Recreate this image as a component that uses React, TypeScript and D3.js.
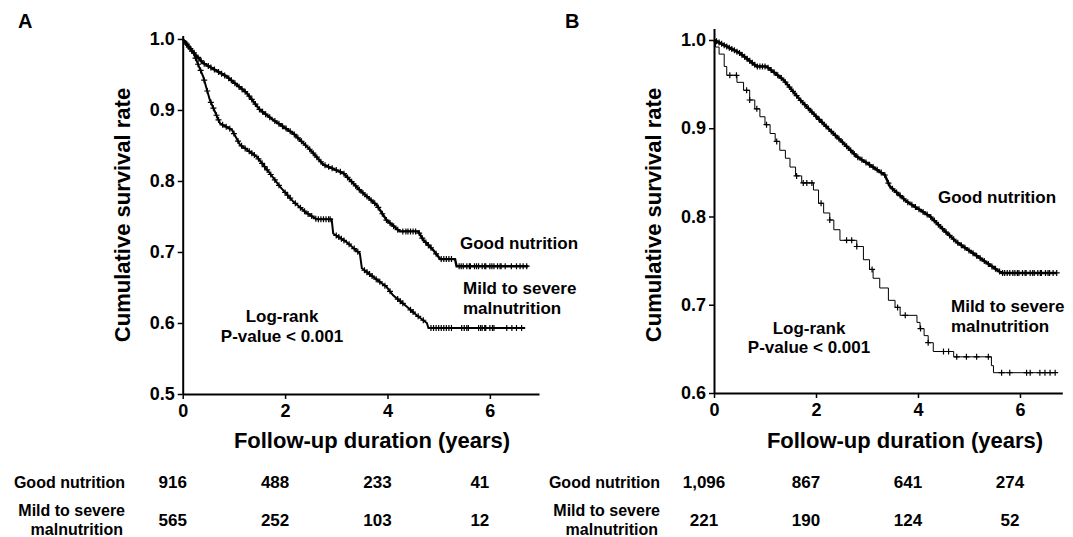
import React, { useEffect, useRef } from 'react';
import * as d3 from 'd3';

const FONT = '"Liberation Sans", Arial, Helvetica, sans-serif';

// Panel A curves, [years, cumulative survival]
const goodA: [number, number][] = [
  [0, 1.0], [0.2, 0.982], [0.4, 0.966], [0.86, 0.947], [1.25, 0.924], [1.51, 0.9],
  [1.77, 0.886], [2.16, 0.867], [2.49, 0.844], [2.75, 0.823], [3.14, 0.811],
  [3.46, 0.787], [3.79, 0.766], [3.98, 0.745], [4.24, 0.729], [4.6, 0.729],
  [4.7, 0.717], [4.89, 0.703], [5.03, 0.69], [5.32, 0.69], [5.35, 0.68], [6.75, 0.68],
];
const malA: [number, number][] = [
  [0, 1.0], [0.21, 0.98], [0.4, 0.947], [0.53, 0.914], [0.73, 0.881], [0.96, 0.872],
  [1.12, 0.851], [1.45, 0.834], [1.7, 0.811], [1.9, 0.792], [2.16, 0.771],
  [2.42, 0.755], [2.62, 0.746], [2.91, 0.746], [2.94, 0.726], [3.2, 0.714],
  [3.46, 0.698], [3.5, 0.677], [3.72, 0.665], [3.98, 0.651], [4.11, 0.639],
  [4.38, 0.623], [4.57, 0.611], [4.77, 0.6], [4.8, 0.593], [6.69, 0.593],
];
const goodACensor = [
  0.08, 0.15, 0.22, 0.3, 0.36, 0.42, 0.5, 0.55, 0.62, 0.7, 0.76, 0.82, 0.9, 0.95,
  1.02, 1.1, 1.16, 1.22, 1.3, 1.35, 1.42, 1.5, 1.56, 1.62, 1.7, 1.8, 1.88, 1.95,
  2.02, 2.1, 2.18, 2.25, 2.32, 2.4, 2.48, 2.55, 2.62, 2.7, 2.78, 2.85, 2.92, 3.0,
  3.08, 3.15, 3.22, 3.3, 3.38, 3.45, 3.52, 3.6, 3.68, 3.75, 3.82, 3.9, 3.98, 4.05,
  4.12, 4.2, 4.3, 4.36, 4.4, 4.45, 4.5, 4.55, 4.62, 4.68, 4.75, 4.8, 4.85, 4.95,
  5.05, 5.1, 5.15, 5.2, 5.25, 5.4, 5.44, 5.48, 5.55, 5.6, 5.62, 5.7, 5.74, 5.78,
  5.85, 5.9, 5.92, 6.0, 6.04, 6.08, 6.15, 6.2, 6.22, 6.3, 6.42, 6.52, 6.59, 6.65, 6.72,
];
const malACensor = [
  0.06, 0.12, 0.18, 0.25, 0.3, 0.35, 0.42, 0.48, 0.55, 0.6, 0.66, 0.7, 0.78, 0.85,
  0.92, 1.0, 1.08, 1.15, 1.22, 1.3, 1.35, 1.4, 1.48, 1.55, 1.6, 1.65, 1.72, 1.8,
  1.88, 2.0, 2.05, 2.1, 2.2, 2.3, 2.38, 2.45, 2.52, 2.6, 2.65, 2.7, 2.75, 2.8,
  2.85, 2.88, 3.0, 3.05, 3.1, 3.15, 3.25, 3.35, 3.42, 3.55, 3.6, 3.65, 3.7, 3.78,
  3.85, 3.95, 4.05, 4.2, 4.25, 4.3, 4.45, 4.5, 4.6, 4.7, 4.85, 4.9, 4.95, 5.0,
  5.05, 5.1, 5.15, 5.2, 5.25, 5.45, 5.5, 5.55, 5.58, 5.78, 5.82, 5.85, 5.9, 5.92,
  6.0, 6.05, 6.08, 6.33, 6.43, 6.52, 6.62,
];

// Panel B curves
const goodB: [number, number][] = [
  [0, 1.0], [0.51, 0.985], [0.84, 0.97], [1.03, 0.97], [1.36, 0.955], [1.69, 0.932],
  [2.01, 0.913], [2.27, 0.898], [2.54, 0.883], [2.8, 0.868], [3.12, 0.856],
  [3.35, 0.847], [3.45, 0.834], [3.78, 0.817], [4.24, 0.8], [4.5, 0.785],
  [4.76, 0.771], [5.09, 0.758], [5.41, 0.745], [5.64, 0.736], [6.72, 0.736],
];
const malB: [number, number][] = [
  [0, 1.0], [0.03, 0.992], [0.1, 0.984], [0.2, 0.97], [0.25, 0.96], [0.45, 0.952],
  [0.58, 0.943], [0.7, 0.932], [0.8, 0.922], [0.9, 0.913], [1.0, 0.904],
  [1.1, 0.894], [1.2, 0.885], [1.29, 0.875], [1.4, 0.866], [1.49, 0.856],
  [1.6, 0.846], [1.72, 0.838], [1.95, 0.83], [2.05, 0.815], [2.15, 0.804],
  [2.27, 0.796], [2.35, 0.785], [2.47, 0.773], [2.8, 0.766], [2.93, 0.751],
  [3.05, 0.74], [3.12, 0.73], [3.25, 0.719], [3.42, 0.705], [3.55, 0.697],
  [3.65, 0.688], [3.98, 0.68], [4.04, 0.673], [4.12, 0.665], [4.2, 0.657],
  [4.3, 0.647], [4.7, 0.641], [5.44, 0.631], [5.48, 0.623], [6.7, 0.623],
];
const goodBCensor = [
  0.05, 0.1, 0.15, 0.2, 0.25, 0.3, 0.35, 0.4, 0.45, 0.5, 0.55, 0.6, 0.65, 0.7,
  0.75, 0.8, 0.85, 0.9, 0.95, 1.0, 1.06, 1.12, 1.18, 1.25, 1.32, 1.4, 1.48, 1.55,
  1.62, 1.7, 1.78, 1.85, 1.92, 2.0, 2.06, 2.12, 2.2, 2.3, 2.38, 2.45, 2.52, 2.6,
  2.68, 2.75, 2.82, 2.9, 2.98, 3.05, 3.12, 3.2, 3.28, 3.35, 3.42, 3.5, 3.58, 3.65,
  3.72, 3.8, 3.88, 3.95, 4.02, 4.1, 4.18, 4.25, 4.32, 4.4, 4.48, 4.55, 4.62, 4.7,
  4.78, 4.85, 4.92, 5.0, 5.08, 5.15, 5.22, 5.3, 5.38, 5.45, 5.52, 5.6, 5.66, 5.7,
  5.75, 5.8, 5.86, 5.9, 5.95, 5.98, 6.05, 6.1, 6.12, 6.2, 6.25, 6.28, 6.35, 6.4,
  6.42, 6.5, 6.55, 6.58, 6.65, 6.72,
];
const malBCensor = [
  0.31, 0.44, 0.64, 0.7, 0.84, 1.03, 1.23, 1.62, 1.75, 1.82, 1.92, 2.1, 2.27,
  2.6, 2.7, 2.8, 3.1, 3.6, 3.75, 4.05, 4.2, 4.5, 4.6, 4.76, 4.95, 5.15, 5.38,
  5.64, 5.8, 6.13, 6.2, 6.39, 6.49, 6.59, 6.69,
];

const xTicks = [0, 2, 4, 6];
const yTicksA = [0.5, 0.6, 0.7, 0.8, 0.9, 1.0];
const yTicksB = [0.6, 0.7, 0.8, 0.9, 1.0];
const riskGoodA = ['916', '488', '233', '41'];
const riskMalA = ['565', '252', '103', '12'];
const riskGoodB = ['1,096', '867', '641', '274'];
const riskMalB = ['221', '190', '124', '52'];

type Curve = { pts: [number, number][]; censor: number[]; width: number; step: boolean };

type PanelProps = {
  letter: string;
  letterX: number;
  xDomain: [number, number];
  xRange: [number, number];
  yDomain: [number, number];
  yRange: [number, number];
  yTicks: number[];
  curves: Curve[];
  yTitleX: number;
  xTitleX: number;
  riskGood: string[];
  riskMal: string[];
  rowLabelX: number;
  notes: { text: string; x: number; y: number; anchor: string }[];
};

// where a censor mark sits on the drawn line
function survivalAt(c: Curve, t: number) {
  const pts = c.pts;
  if (c.step) {
    let s = pts[0][1];
    for (const p of pts) if (p[0] <= t) s = p[1];
    return s;
  }
  for (let i = 1; i < pts.length; i++) {
    if (t <= pts[i][0]) {
      const [t0, s0] = pts[i - 1];
      const [t1, s1] = pts[i];
      return s0 + ((t - t0) / (t1 - t0 || 1)) * (s1 - s0);
    }
  }
  return pts[pts.length - 1][1];
}

function Panel(props: PanelProps) {
  const x = d3.scaleLinear().domain(props.xDomain).range(props.xRange);
  const y = d3.scaleLinear().domain(props.yDomain).range(props.yRange);
  const xAxisRef = useRef<SVGGElement>(null);
  const yAxisRef = useRef<SVGGElement>(null);

  useEffect(() => {
    const xa = d3.select(xAxisRef.current!);
    xa.call(d3.axisBottom(x).tickValues(xTicks).tickFormat(d3.format('d')).tickSize(5).tickSizeOuter(0).tickPadding(5));
    const ya = d3.select(yAxisRef.current!);
    ya.call(d3.axisLeft(y).tickValues(props.yTicks).tickFormat(d3.format('.1f')).tickSize(5).tickSizeOuter(0).tickPadding(3));
    [xa, ya].forEach(a => {
      a.selectAll('path').attr('stroke', '#000').attr('stroke-width', 2);
      a.selectAll('line').attr('stroke', '#000').attr('stroke-width', 1.5);
      a.selectAll('text')
        .attr('fill', '#000')
        .style('font-family', FONT)
        .style('font-weight', 'bold')
        .style('font-size', '18px');
    });
  });

  const y0 = props.yRange[0];
  const x0 = props.xRange[0];

  return (
    <g>
      <text x={props.letterX} y={28} fontFamily={FONT} fontWeight="bold" fontSize={20}>{props.letter}</text>
      {props.curves.map((c, i) => {
        const line = d3.line<[number, number]>()
          .x(d => x(d[0]))
          .y(d => y(d[1]))
          .curve(c.step ? d3.curveStepAfter : d3.curveLinear);
        return (
          <g key={i}>
            <path d={line(c.pts) || ''} fill="none" stroke="#000" strokeWidth={c.width} />
            {c.censor.map((t, j) => {
              const cx = x(t);
              const cy = y(survivalAt(c, t));
              return (
                <path key={j} d={`M${cx - 3},${cy}H${cx + 3}M${cx},${cy - 3}V${cy + 3}`} stroke="#000" strokeWidth={1.2} />
              );
            })}
          </g>
        );
      })}
      <g ref={xAxisRef} transform={`translate(0,${y0})`} />
      <g ref={yAxisRef} transform={`translate(${x0},0)`} />
      <text
        transform={`translate(${props.yTitleX},215) rotate(-90)`}
        textAnchor="middle"
        dominantBaseline="central"
        fontFamily={FONT}
        fontWeight="bold"
        fontSize={22}
      >
        Cumulative survival rate
      </text>
      <text x={props.xTitleX} y={448} textAnchor="middle" fontFamily={FONT} fontWeight="bold" fontSize={22}>
        Follow-up duration (years)
      </text>
      {props.notes.map((n, i) => (
        <text key={i} x={n.x} y={n.y} textAnchor={n.anchor as any} dominantBaseline="central" fontFamily={FONT} fontWeight="bold" fontSize={17}>
          {n.text}
        </text>
      ))}
      <g fontFamily={FONT} fontWeight="bold" fontSize={16}>
        <text x={props.rowLabelX} y={482} textAnchor="end" dominantBaseline="central">Good nutrition</text>
        <text x={props.rowLabelX} y={510} textAnchor="end" dominantBaseline="central">Mild to severe</text>
        <text x={props.rowLabelX - 2} y={529} textAnchor="end" dominantBaseline="central">malnutrition</text>
        {xTicks.map((t, i) => (
          <g key={t} fontSize={17}>
            <text x={x(t) - 10} y={482} textAnchor="middle" dominantBaseline="central">{props.riskGood[i]}</text>
            <text x={x(t) - 10} y={520} textAnchor="middle" dominantBaseline="central">{props.riskMal[i]}</text>
          </g>
        ))}
      </g>
    </g>
  );
}

export default function App() {
  return (
    <svg width={1073} height={537} style={{ position: 'absolute', left: 0, top: 0, background: '#fff' }}>
      <rect width={1073} height={537} fill="#fff" />
      <Panel
        letter="A"
        letterX={18}
        xDomain={[0, 6.96]}
        xRange={[182.7, 539]}
        yDomain={[0.5, 1.005]}
        yRange={[394, 35.4]}
        yTicks={yTicksA}
        curves={[
          { pts: goodA, censor: goodACensor, width: 2.4, step: false },
          { pts: malA, censor: malACensor, width: 2.0, step: false },
        ]}
        yTitleX={122}
        xTitleX={372}
        riskGood={riskGoodA}
        riskMal={riskMalA}
        rowLabelX={125}
        notes={[
          { text: 'Good nutrition', x: 460, y: 243, anchor: 'start' },
          { text: 'Mild to severe', x: 463, y: 288, anchor: 'start' },
          { text: 'malnutrition', x: 463, y: 308, anchor: 'start' },
          { text: 'Log-rank', x: 282, y: 316, anchor: 'middle' },
          { text: 'P-value < 0.001', x: 282, y: 336, anchor: 'middle' },
        ]}
      />
      <Panel
        letter="B"
        letterX={565}
        xDomain={[0, 6.83]}
        xRange={[714, 1062.3]}
        yDomain={[0.6, 1.013]}
        yRange={[393, 28.5]}
        yTicks={yTicksB}
        curves={[
          { pts: goodB, censor: goodBCensor, width: 2.6, step: false },
          { pts: malB, censor: malBCensor, width: 1, step: true },
        ]}
        yTitleX={653}
        xTitleX={905}
        riskGood={riskGoodB}
        riskMal={riskMalB}
        rowLabelX={660}
        notes={[
          { text: 'Good nutrition', x: 938, y: 197, anchor: 'start' },
          { text: 'Mild to severe', x: 951, y: 306, anchor: 'start' },
          { text: 'malnutrition', x: 951, y: 326, anchor: 'start' },
          { text: 'Log-rank', x: 809, y: 328, anchor: 'middle' },
          { text: 'P-value < 0.001', x: 809, y: 347, anchor: 'middle' },
        ]}
      />
    </svg>
  );
}
